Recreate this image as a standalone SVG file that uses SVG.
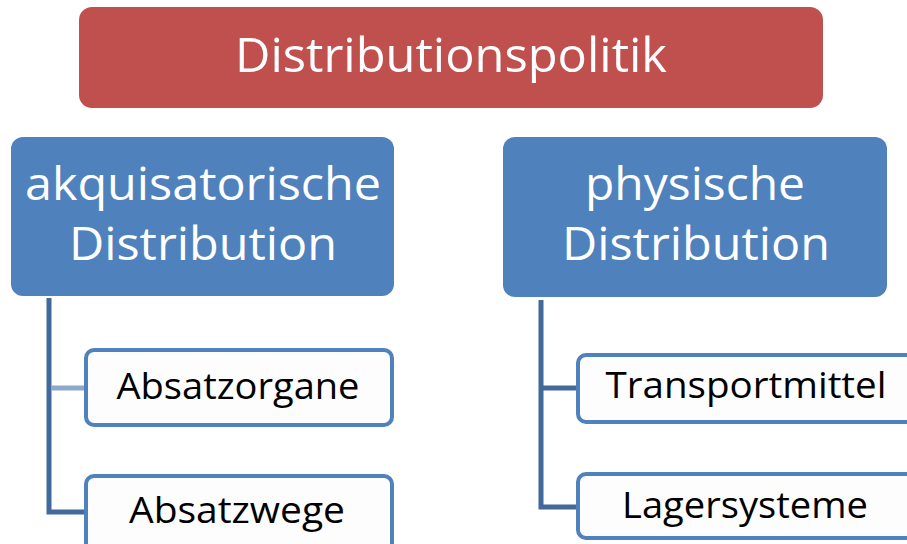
<svg xmlns="http://www.w3.org/2000/svg" width="907" height="544" viewBox="0 0 907 544">
<style>
.t{font-family:"Open Sans","Liberation Sans",sans-serif;text-anchor:middle}
.w{fill:#ffffff}
.k{fill:#000000}
.main{fill:#C0504D}
.cat{fill:#4F81BD}
.leaf{fill:#FDFDFD;stroke:#4F81BD;stroke-width:4}
.con{stroke:#41699C;stroke-width:5;fill:none}
.con2{stroke:#8EA8C8;stroke-width:5;fill:none}
</style>
<rect width="907" height="544" fill="#ffffff"/>
<g id="connectors">
<path class="con" d="M49 298 V512 H87"/>
<path class="con2" d="M51 388 H87"/>
<path class="con" d="M541 300 V507 H579"/>
<path class="con" d="M541 388 H579"/>
</g>
<g id="n-root">
<rect class="main" x="79" y="7" width="744" height="101" rx="13"/>
<text class="t w" x="451" y="72" font-size="48" textLength="432" lengthAdjust="spacingAndGlyphs">Distributionspolitik</text>
</g>
<g id="n-akq">
<rect class="cat" x="11" y="137" width="383" height="159" rx="12"/>
<text class="t w" x="203" y="200" font-size="46" textLength="356" lengthAdjust="spacingAndGlyphs">akquisatorische</text>
<text class="t w" x="203" y="260" font-size="46" textLength="268" lengthAdjust="spacingAndGlyphs">Distribution</text>
</g>
<g id="n-phys">
<rect class="cat" x="503" y="137" width="384" height="160" rx="12"/>
<text class="t w" x="695" y="200" font-size="46" textLength="220" lengthAdjust="spacingAndGlyphs">physische</text>
<text class="t w" x="696" y="260" font-size="46" textLength="268" lengthAdjust="spacingAndGlyphs">Distribution</text>
</g>
<g id="n-absatzorgane">
<rect class="leaf" x="86" y="350" width="306" height="75" rx="8"/>
<text class="t k" x="238" y="399" font-size="37" textLength="243" lengthAdjust="spacingAndGlyphs">Absatzorgane</text>
</g>
<g id="n-absatzwege">
<rect class="leaf" x="86" y="476" width="306" height="90" rx="8"/>
<text class="t k" x="237" y="523" font-size="37" textLength="216" lengthAdjust="spacingAndGlyphs">Absatzwege</text>
</g>
<g id="n-transport">
<rect class="leaf" x="578" y="355" width="340" height="67" rx="8"/>
<text class="t k" x="746" y="398" font-size="37" textLength="281" lengthAdjust="spacingAndGlyphs">Transportmittel</text>
</g>
<g id="n-lager">
<rect class="leaf" x="578" y="474" width="340" height="64" rx="8"/>
<text class="t k" x="745" y="518" font-size="37" textLength="246" lengthAdjust="spacingAndGlyphs">Lagersysteme</text>
</g>
</svg>
